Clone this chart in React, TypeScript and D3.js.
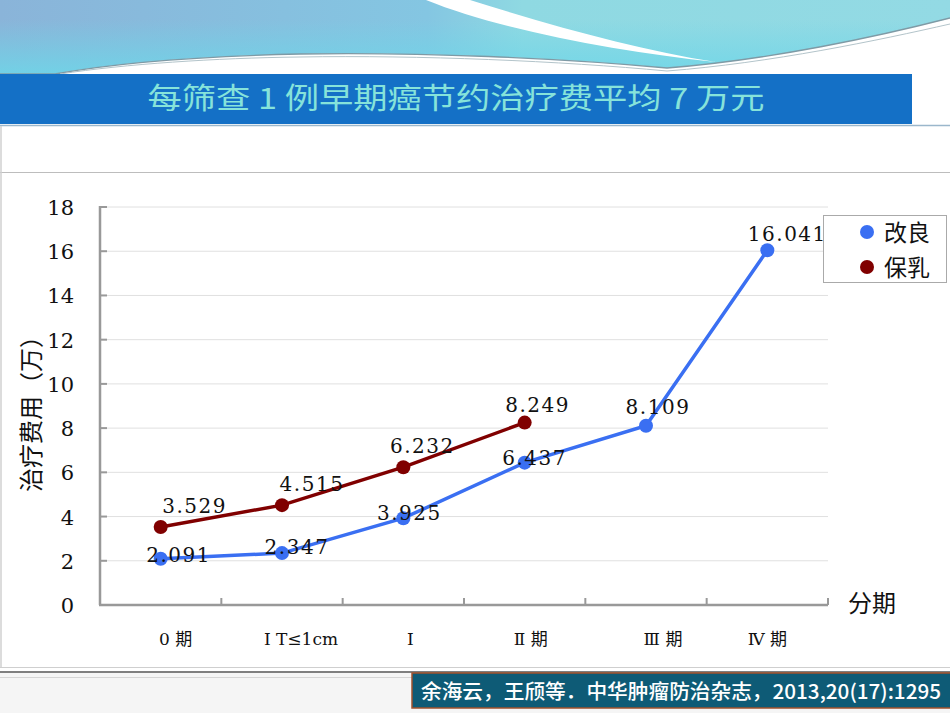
import React from "react";
import * as d3 from "d3";

const categories = ["0 期", "Ⅰ T≤1cm", "Ⅰ", "Ⅱ 期", "Ⅲ 期", "Ⅳ 期"];
const gaiLiang = [2.091, 2.347, 3.925, 6.437, 8.109, 16.041];
const baoRu = [3.529, 4.515, 6.232, 8.249];
const yTicks = [0, 2, 4, 6, 8, 10, 12, 14, 16, 18];
const seriesNames = ["改良", "保乳"];
const title = "每筛查 1 例早期癌节约治疗费平均 7 万元";
const citation = "余海云，王颀等．中华肿瘤防治杂志，2013,20(17):1295";

const BLUE = "#3a6ff2";
const RED = "#800000";
const SERIF = "DejaVu Serif, Liberation Serif, Noto Sans CJK SC, serif";
const CJK = "Noto Sans CJK SC, sans-serif";

// label offsets (layout only)
const blueLabelOff: [number, number][] = [[18, 3], [15, 1], [6, 2], [10, 2], [12, -12], [20, -9]];
const redLabelOff: [number, number][] = [[34, -14], [30, -14], [19, -14], [13, -11]];
const catLabelOff = [15, 19, 7, 6, 17, 0];

export default function App() {
  const W = 950, H = 713;
  const x = d3.scaleBand<string>().domain(categories).range([100, 828]).padding(0);
  const y = d3.scaleLinear().domain([0, 18]).range([605, 207]);
  const cx = (i: number) => (x(categories[i]) as number) + x.bandwidth() / 2;
  const line = d3.line<number>().x((_, i) => cx(i)).y((d) => y(d));

  const series = [
    { name: seriesNames[0], values: gaiLiang, color: BLUE, off: blueLabelOff },
    { name: seriesNames[1], values: baoRu, color: RED, off: redLabelOff },
  ];

  const lowerCurve = "M 0 74 L 55 74 C 120 62 210 56 300 54 C 420 52 560 58 667 68 C 770 60 880 36 950 18";

  return (
    <svg width={W} height={H} style={{ position: "absolute", left: 0, top: 0, background: "#fff" }}>
      <defs>
        <linearGradient id="topg" x1="0" x2="1" y1="0" y2="0">
          <stop offset="0" stopColor="#8ab4d9" />
          <stop offset="0.45" stopColor="#84c6e2" />
          <stop offset="0.55" stopColor="#8fd9e2" />
          <stop offset="1" stopColor="#93dae4" />
        </linearGradient>
        <linearGradient id="topv" x1="0" x2="0" y1="0" y2="1">
          <stop offset="0" stopColor="#6ed6e8" stopOpacity="0" />
          <stop offset="1" stopColor="#6ed6e8" stopOpacity="0.85" />
        </linearGradient>
      </defs>
      {/* decorative top */}
      <rect x={0} y={0} width={W} height={74} fill="url(#topg)" />
      <rect x={0} y={20} width={W} height={54} fill="url(#topv)" />
      <path d="M 426 0 L 470 0 C 560 28 640 50 716 62 C 620 52 500 30 426 0 Z" fill="#ffffff" />
      <path d={lowerCurve + " L 950 74 Z"} fill="#ffffff" />
      <path d={lowerCurve} fill="none" stroke="#7f9aa5" strokeWidth={1.3} />
      <path d="M 60 74 C 125 64 215 58 300 57 C 420 55 560 61 667 71 C 770 63 880 40 950 24" fill="none" stroke="#b3c4ca" strokeWidth={1} />

      {/* title band */}
      <rect x={0} y={74} width={912} height={50} fill="#1470c6" />
      <line x1={0} x2={W} y1={125.5} y2={125.5} stroke="#9bb7cc" strokeWidth={1.5} />
      <text x={456} y={109} textAnchor="middle" fontFamily={CJK} fontSize={29} fill="#86e3da"
        textLength={617} lengthAdjust="spacingAndGlyphs">{title}</text>

      {/* frame lines */}
      <line x1={0} x2={W} y1={172.5} y2={172.5} stroke="#bdbdbd" strokeWidth={1} />
      <line x1={1} x2={1} y1={126} y2={668} stroke="#d0d0d0" strokeWidth={1.5} />

      {/* gridlines */}
      {yTicks.filter((t) => t > 0).map((t) => (
        <line key={t} x1={100} x2={828} y1={y(t)} y2={y(t)} stroke="#e0e0e0" strokeWidth={1} />
      ))}
      {/* axes */}
      <line x1={100} x2={100} y1={y(18) - 1} y2={y(0)} stroke="#999" strokeWidth={2.5} />
      <line x1={99} x2={828} y1={y(0)} y2={y(0)} stroke="#999" strokeWidth={2.5} />
      {yTicks.map((t) => (
        <line key={"yt" + t} x1={100} x2={107} y1={y(t)} y2={y(t)} stroke="#999" strokeWidth={2} />
      ))}
      {categories.map((c) => (
        <line key={"xt" + c} x1={(x(c) as number) + x.bandwidth()} x2={(x(c) as number) + x.bandwidth()}
          y1={y(0)} y2={y(0) - 7} stroke="#999" strokeWidth={2} />
      ))}
      {yTicks.map((t) => (
        <text key={"yl" + t} x={74} y={y(t) + 8} textAnchor="end" fontFamily={SERIF} fontSize={21}
          fill="#111">{t}</text>
      ))}
      {categories.map((c, i) => (
        <text key={"cl" + c} x={cx(i) + catLabelOff[i]} y={645} textAnchor="middle" fontFamily={SERIF}
          fontSize={17} fill="#111">{c}</text>
      ))}
      <text x={848} y={612} fontFamily={CJK} fontSize={24} fill="#111">分期</text>
      <text transform="translate(40,408) rotate(-90)" textAnchor="middle" fontFamily={CJK} fontSize={24}
        fill="#111">治疗费用（万）</text>

      {/* series */}
      {series.map((s) => (
        <g key={s.name}>
          <path d={line(s.values) || ""} fill="none" stroke={s.color} strokeWidth={3.5} />
          {s.values.map((v, i) => (
            <circle key={i} cx={cx(i)} cy={y(v)} r={7} fill={s.color} />
          ))}
        </g>
      ))}
      {series.map((s) => s.values.map((v, i) => (
        <text key={s.name + "l" + i} x={cx(i) + s.off[i][0]} y={y(v) + s.off[i][1]} textAnchor="middle"
          fontFamily={SERIF} fontSize={20} letterSpacing={1.5} fill="#111">{v.toFixed(3)}</text>
      )))}

      {/* legend */}
      <rect x={823.5} y={215.5} width={123} height={67} fill="#fff" stroke="#aaa" strokeWidth={1} />
      {series.map((s, i) => (
        <g key={"lg" + s.name}>
          <circle cx={867} cy={232 + i * 35} r={7} fill={s.color} />
          <text x={884} y={241 + i * 35} fontFamily={CJK} fontSize={23} fill="#111">{s.name}</text>
        </g>
      ))}

      {/* bottom */}
      <line x1={0} x2={W} y1={667.5} y2={667.5} stroke="#cfcfcf" strokeWidth={1} />
      <rect x={0} y={673} width={W} height={40} fill="#f5f5f5" />
      <line x1={0} x2={W} y1={672} y2={672} stroke="#555" strokeWidth={1.5} />
      <line x1={0} x2={W} y1={677.5} y2={677.5} stroke="#d5d5d5" strokeWidth={1} />
      <rect x={412} y={673} width={540} height={35} fill="#0e5b76" stroke="#a0522d" strokeWidth={1.5} />
      <text x={421} y={699} fontFamily={CJK} fontSize={20} fontWeight={500} fill="#ffffff"
        textLength={520} lengthAdjust="spacingAndGlyphs">{citation}</text>
    </svg>
  );
}
